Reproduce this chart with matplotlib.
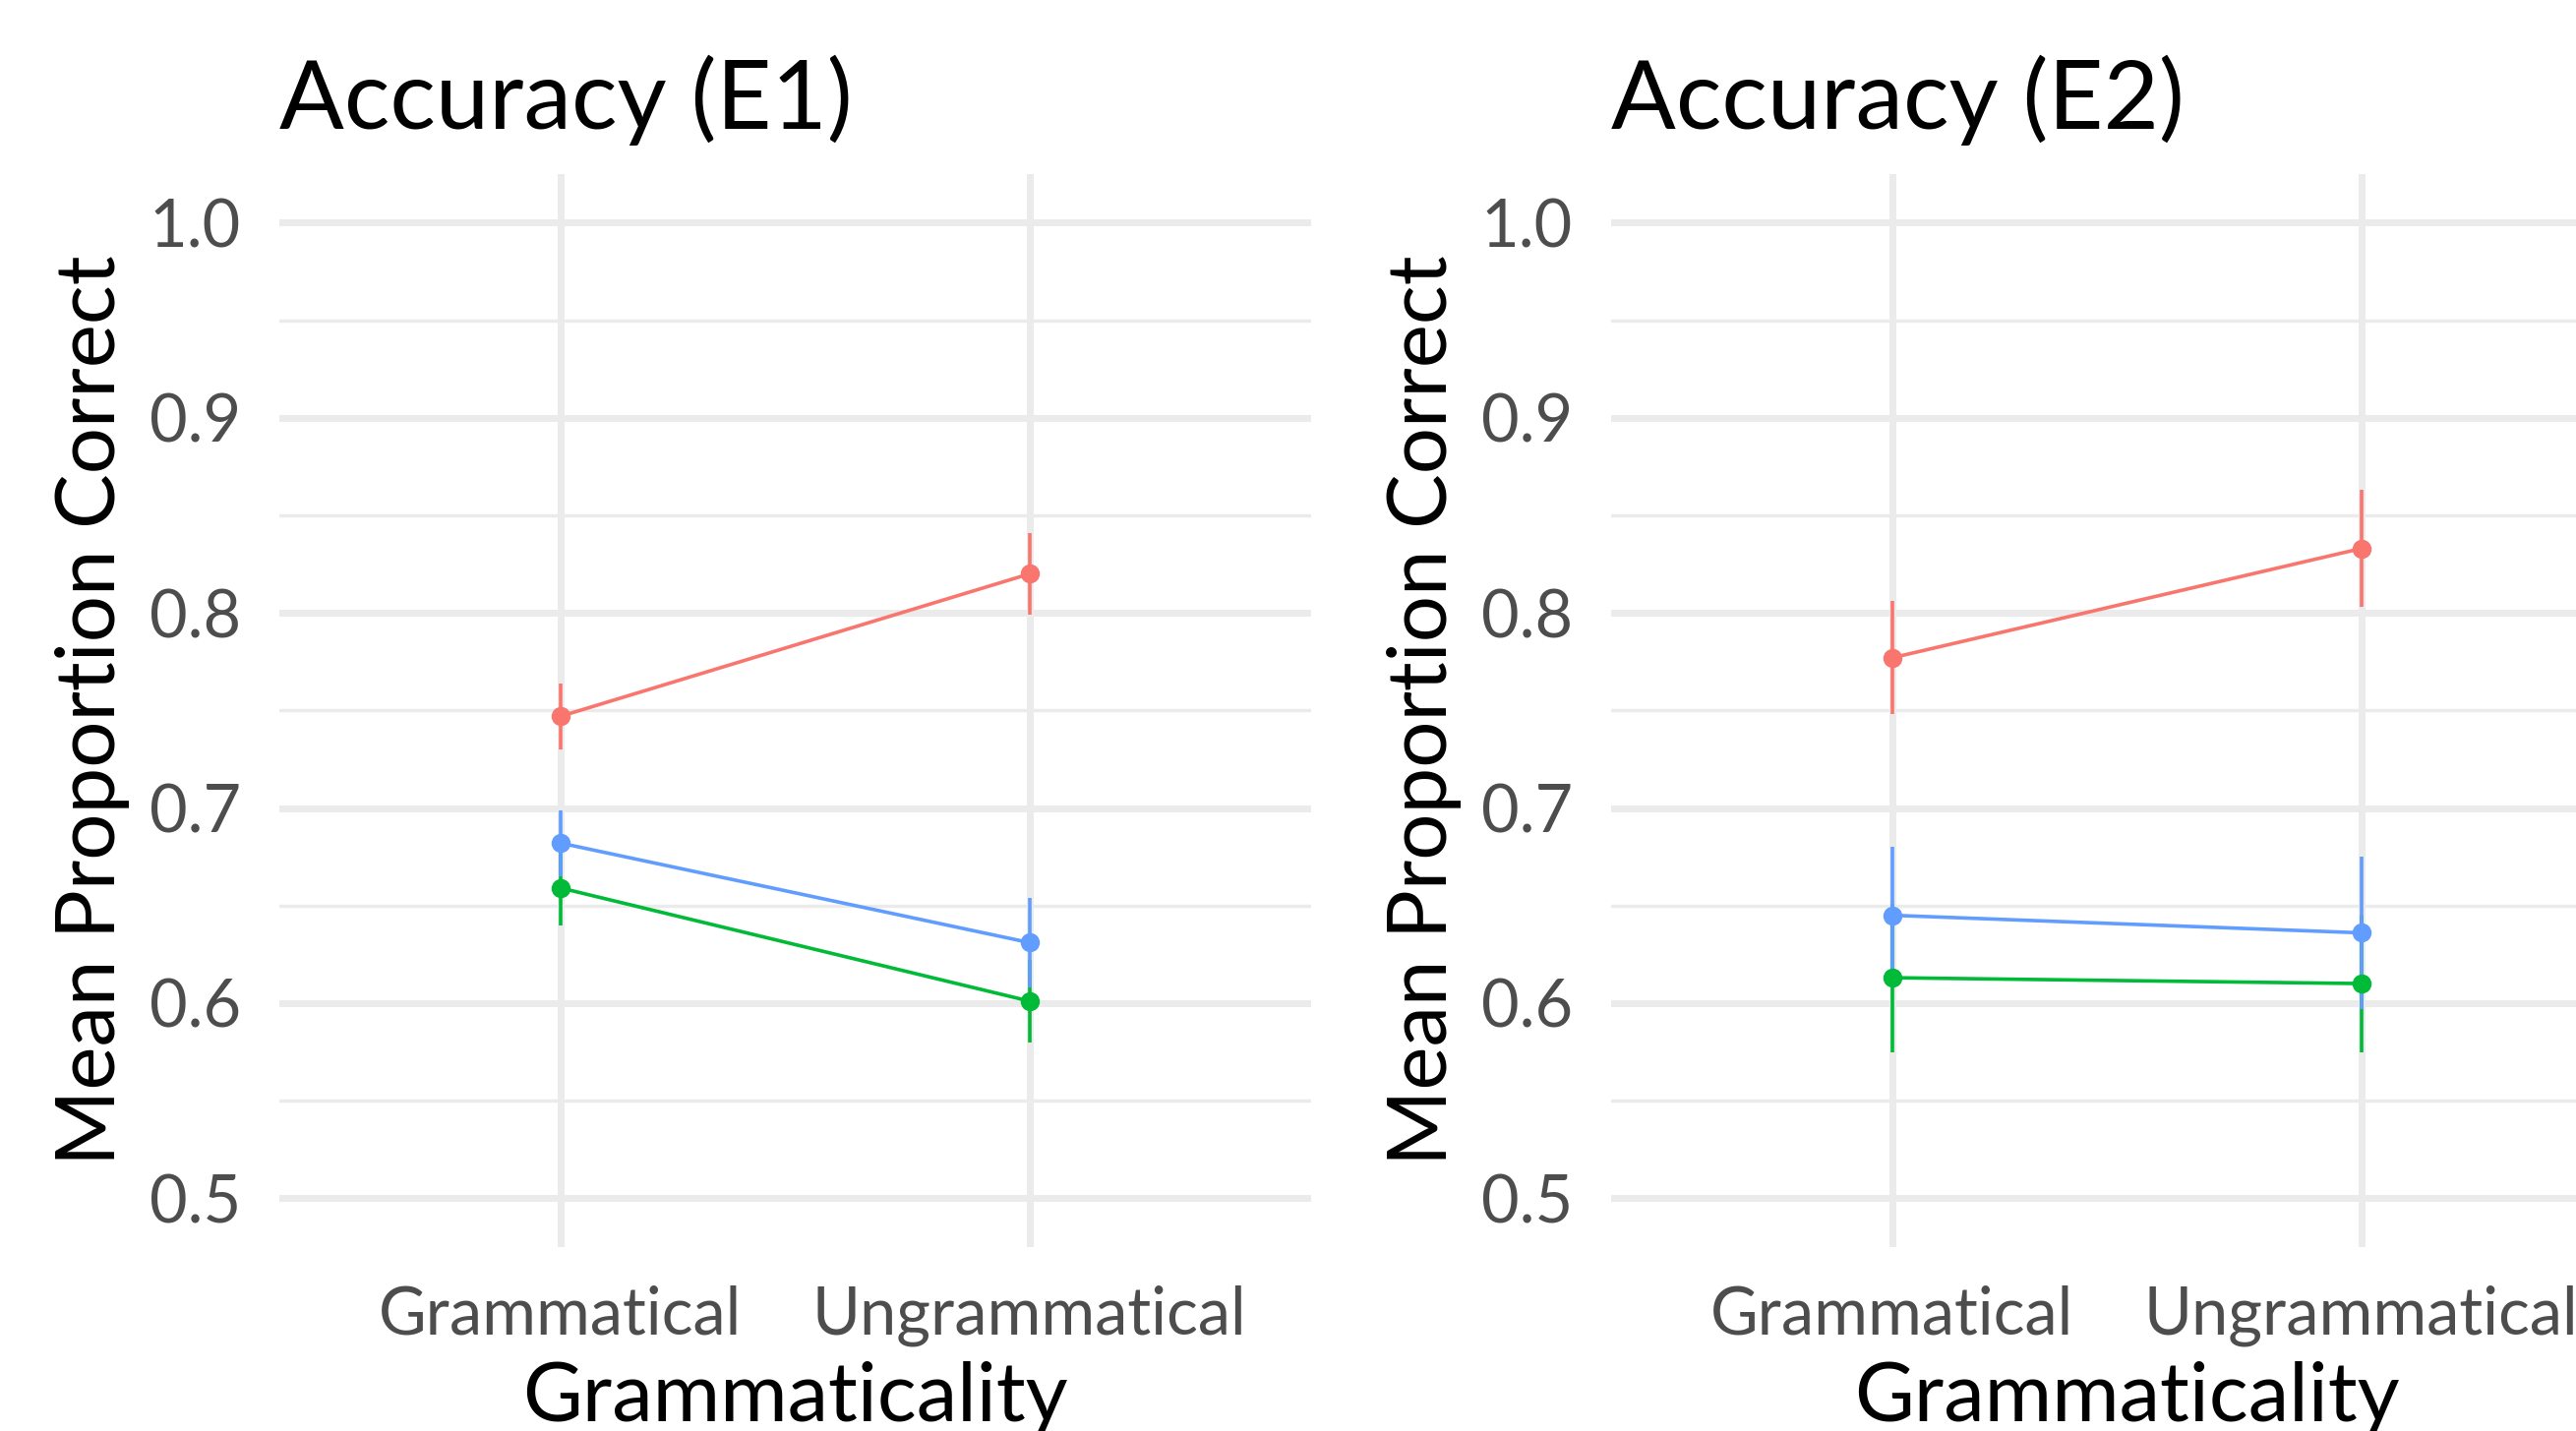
import matplotlib
matplotlib.use("Agg")
import matplotlib.pyplot as plt

plt.rcParams['font.family'] = ['Lato', 'DejaVu Sans']

# x categories
conditions = ["Grammatical", "Ungrammatical"]
yticks = [0.5, 0.6, 0.7, 0.8, 0.9, 1.0]

# E1 means and error half-widths (red, green, blue groups)
e1_red = [0.747, 0.820]
e1_red_err = [0.017, 0.021]
e1_green = [0.659, 0.601]
e1_green_err = [0.019, 0.021]
e1_blue = [0.682, 0.631]
e1_blue_err = [0.017, 0.023]

# E2
e2_red = [0.777, 0.833]
e2_red_err = [0.029, 0.030]
e2_green = [0.613, 0.610]
e2_green_err = [0.038, 0.035]
e2_blue = [0.645, 0.636]
e2_blue_err = [0.035, 0.039]

colors = {"red": "#F8766D", "green": "#00BA38", "blue": "#619CFF"}

fig = plt.figure(figsize=(26.19, 14.55), dpi=100)
fig.patch.set_facecolor("white")

panels = [
    ("Accuracy (E1)", 0.1084, [(e1_red, e1_red_err, "red"), (e1_green, e1_green_err, "green"), (e1_blue, e1_blue_err, "blue")]),
    ("Accuracy (E2)", 0.6254, [(e2_red, e2_red_err, "red"), (e2_green, e2_green_err, "green"), (e2_blue, e2_blue_err, "blue")]),
]

xs = [1, 2]
for title, left, series in panels:
    ax = fig.add_axes([left, 0.1286, 0.4005, 0.7499])
    ax.set_facecolor("white")
    for s in ax.spines.values():
        s.set_visible(False)

    # grid
    for y in yticks:
        ax.axhline(y, color="#EBEBEB", lw=5, zorder=0)
    for y in [0.55, 0.65, 0.75, 0.85, 0.95]:
        ax.axhline(y, color="#EBEBEB", lw=2.5, zorder=0)
    for x in xs:
        ax.axvline(x, color="#EBEBEB", lw=5, zorder=0)

    for vals, errs, c in series:
        ax.errorbar(xs, vals, yerr=errs, color=colors[c], lw=2.6, elinewidth=2.6,
                    capsize=0, marker="o", markersize=13, zorder=3)

    ax.set_xlim(0.4, 2.6)
    ax.set_ylim(0.475, 1.025)
    ax.set_xticks(xs)
    ax.set_xticklabels(conditions)
    ax.set_yticks(yticks)
    ax.set_yticklabels([f"{v:.1f}" for v in yticks])
    ax.tick_params(length=0, labelsize=48, labelcolor="#4D4D4D", pad=28)

    ax.set_xlabel("Grammaticality", fontsize=60, labelpad=10)
    ax.set_ylabel("Mean Proportion Correct", fontsize=60, labelpad=14)
    ax.set_title(title, loc="left", fontsize=70, pad=33)

fig.savefig("out.png", dpi=100, facecolor="white")
